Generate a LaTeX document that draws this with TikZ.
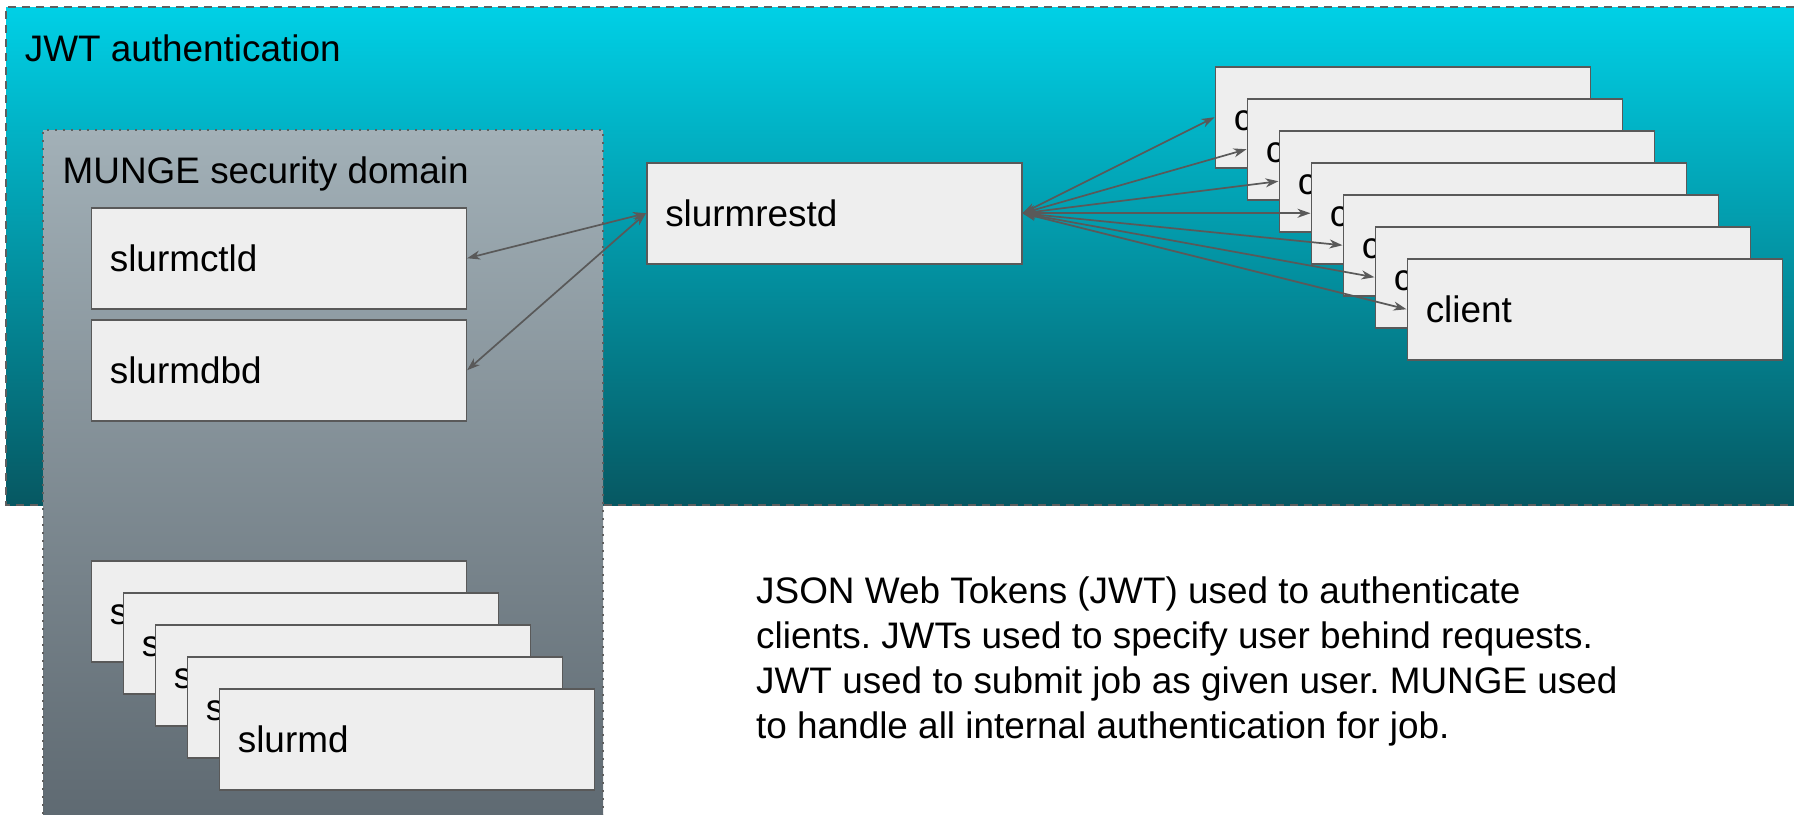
\documentclass[tikz,border=0pt]{standalone}
\usepackage{fontspec}
\setmainfont{Liberation Sans}
\usetikzlibrary{arrows.meta}

\definecolor{jwtTop}{RGB}{0,208,230}
\definecolor{jwtBot}{RGB}{6,88,98}
\definecolor{mungeTop}{RGB}{162,176,183}
\definecolor{mungeBot}{RGB}{95,106,114}
\definecolor{boxFill}{RGB}{238,238,238}
\definecolor{edgeGray}{RGB}{89,89,89}
\definecolor{frameGray}{RGB}{95,95,95}

\newcommand{\labelfont}{\fontsize{36.9}{45}\selectfont}
\frenchspacing

\begin{document}
\begin{tikzpicture}[x=1pt,y=-1pt,
  svc/.style={draw=edgeGray, line width=1.5pt, fill=boxFill, anchor=north west,
    minimum width=375pt, minimum height=101pt, inner xsep=18.5pt, inner ysep=0pt,
    text width=338pt, align=left, text height=27pt, text depth=0pt, font=\labelfont},
  tip/.tip={Stealth[length=13pt,width=9pt,inset=4pt]},
  link/.style={draw=edgeGray, line width=1.7pt, tip-tip},
  lbl/.style={anchor=base west, inner sep=0pt, font=\labelfont}]

\useasboundingbox (0,0) rectangle (1794,814);

% JWT authentication region (runs off the right edge)
\shade[top color=jwtTop, bottom color=jwtBot] (6,7) rectangle (1794,505);
\draw[frameGray, line width=2pt, dash pattern=on 8pt off 6pt]
  (1794,7) -- (6,7) -- (6,505) -- (1794,505);
\node[lbl] (jwtlabel) at (24.6,61) {JWT authentication};

% MUNGE security domain (runs off the bottom edge)
\shade[top color=mungeTop, bottom color=mungeBot] (43,130) rectangle (603,814);
\draw[frameGray, line width=1.5pt, dash pattern=on 2pt off 6pt]
  (43,814) -- (43,130) -- (603,130) -- (603,814);
\node[lbl] (mungelabel) at (62.5,183) {MUNGE security domain};

% Slurm daemons
\node[svc] (ctld) at (90.6,207) {slurmctld};
\node[svc] (dbd) at (90.6,319) {slurmdbd};
\foreach \k in {0,...,4}
  \node[svc] (slurmd\k) at (90.6+32*\k,560+32*\k) {slurmd};

% REST daemon and its clients
\node[svc] (rest) at (646,162) {slurmrestd};
\foreach \k in {0,...,6}
  \node[svc] (client\k) at (1214.5+32*\k,66+32*\k) {client};

% Connections
\draw[link] (ctld.east) -- (rest.west);
\draw[link] (dbd.east) -- (rest.west);
\foreach \k in {0,...,6}
  \draw[link] (rest.east) -- (client\k.west);

% Explanation
\node[anchor=base west, inner sep=0pt] (note) at (756,603)
  {\parbox[t]{900pt}{\labelfont\raggedright
    JSON Web Tokens (JWT) used to authenticate\\
    clients. JWTs used to specify user behind requests.\\
    JWT used to submit job as given user. MUNGE used\\
    to handle all internal authentication for job.}};
\end{tikzpicture}
\end{document}
